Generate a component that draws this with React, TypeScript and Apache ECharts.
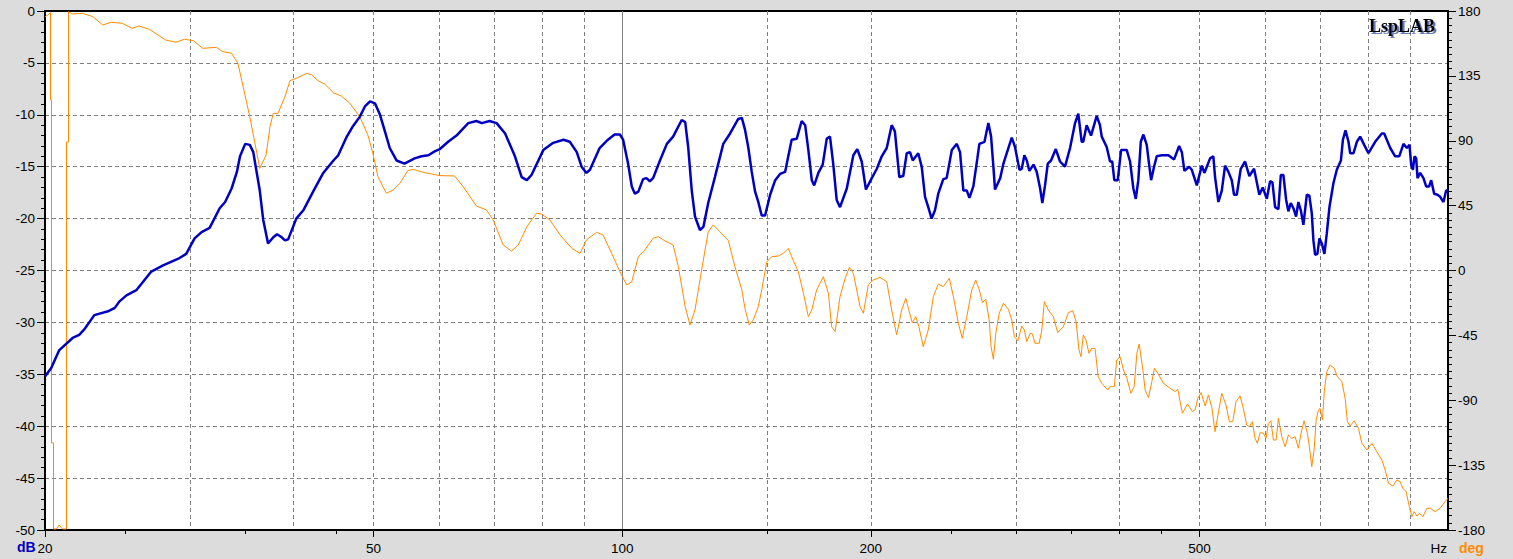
import React, { useEffect, useRef } from "react";
import * as echarts from "echarts";

// ---- Data (frequency in Hz, level in dB / phase in degrees) ----
const F_MIN = 20;
const F_MAX = 1000;

const magnitude: [number, number][] = [
  [20.0, -35.2], [20.35, -34.4], [20.8, -32.7], [21.6, -31.5], [22.0, -31.2], [22.3, -30.7], [22.95, -29.3],
  [23.9, -28.9], [24.3, -28.6], [24.6, -28.0], [25.1, -27.4], [25.8, -26.9], [26.9, -25.1], [27.8, -24.5],
  [29.1, -23.8], [29.65, -23.4], [30.35, -21.9], [30.95, -21.3], [31.65, -20.9], [32.55, -19.0], [33.05, -18.4],
  [33.65, -17.1], [34.15, -15.5], [34.45, -14.0], [34.95, -12.8], [35.4, -12.9], [35.75, -13.6], [36.1, -15.6],
  [36.4, -17.3], [36.75, -20.1], [37.25, -22.4], [37.8, -21.8], [38.2, -21.5], [38.7, -21.8], [39.05, -22.1],
  [39.4, -22.0], [40.3, -20.0], [41.1, -19.2], [42.3, -17.3], [43.45, -15.6], [44.7, -14.4], [45.3, -13.9],
  [46.4, -12.1], [47.2, -11.1], [48.1, -10.2], [48.8, -9.2], [49.5, -8.7], [50.2, -8.9], [50.9, -10.0],
  [51.6, -11.6], [52.3, -13.2], [53.3, -14.4], [54.5, -14.7], [56.05, -14.2], [57.15, -14.0], [58.25, -13.9],
  [59.35, -13.5], [60.15, -13.3], [61.55, -12.6], [63.0, -12.0], [65.1, -10.8], [66.6, -10.6], [67.6, -10.8],
  [69.1, -10.6], [70.45, -10.8], [72.15, -11.8], [74.15, -14.0], [75.55, -16.0], [76.65, -16.3], [77.65, -15.8],
  [80.25, -13.4], [82.5, -12.7], [84.9, -12.4], [86.4, -12.6], [88.1, -13.6], [89.3, -15.0], [90.5, -15.6],
  [91.4, -15.3], [93.9, -13.2], [96.1, -12.4], [97.9, -11.9], [99.35, -11.9], [100.25, -12.4], [101.65, -14.7],
  [102.7, -16.9], [103.6, -17.6], [104.6, -17.4], [106.0, -16.2], [107.0, -16.1], [108.0, -16.4], [109.0, -16.1],
  [111.1, -14.4], [113.25, -12.8], [115.25, -12.1], [118.05, -10.5], [119.2, -10.7], [120.2, -13.1], [121.4, -17.3],
  [122.5, -19.8], [124.2, -21.1], [125.4, -20.8], [127.1, -18.5], [129.5, -16.0], [132.55, -12.8], [135.1, -11.8],
  [138.2, -10.4], [139.6, -10.3], [140.8, -11.4], [142.1, -13.1], [143.5, -15.5], [144.85, -17.4], [146.15, -18.4],
  [147.55, -19.7], [148.95, -19.7], [151.05, -17.7], [153.2, -16.3], [155.3, -15.7], [157.5, -15.5], [158.9, -14.0],
  [160.4, -12.4], [162.7, -12.3], [164.95, -10.6], [166.55, -11.0], [168.05, -13.4], [169.65, -16.3], [170.8, -16.8],
  [172.8, -15.6], [174.9, -14.8], [176.9, -12.3], [178.5, -12.1], [180.1, -14.7], [181.85, -18.2], [183.55, -18.9],
  [187.05, -17.1], [190.5, -13.9], [192.6, -13.3], [195.0, -14.5], [197.3, -17.2], [200.55, -16.1], [203.4, -15.2],
  [206.2, -14.0], [209.1, -13.2], [212.0, -11.0], [213.9, -11.6], [216.55, -16.0], [218.95, -15.9], [221.1, -13.7],
  [223.1, -13.6], [224.8, -14.4], [228.3, -13.7], [230.5, -15.0], [232.65, -17.9], [234.75, -18.9], [236.95, -20.0],
  [239.2, -19.2], [241.4, -17.6], [244.8, -16.2], [247.1, -16.1], [250.7, -13.4], [254.2, -12.8], [256.5, -13.6],
  [258.9, -17.3], [261.4, -17.3], [263.3, -18.0], [266.2, -16.9], [269.2, -14.2], [270.7, -12.8], [274.6, -12.6],
  [277.6, -10.8], [279.7, -12.1], [281.5, -15.0], [282.8, -17.2], [286.9, -16.1], [289.5, -14.7], [292.2, -13.7],
  [296.3, -12.2], [299.0, -13.1], [302.7, -15.3], [304.7, -15.2], [306.9, -13.9], [309.0, -14.4], [311.2, -15.4],
  [314.8, -14.8], [317.7, -15.5], [320.7, -17.1], [322.7, -18.5], [325.1, -16.8], [327.6, -14.7], [330.6, -14.4],
  [335.0, -13.3], [339.0, -14.5], [343.7, -15.0], [348.6, -13.2], [353.5, -10.8], [356.7, -9.9], [360.1, -12.6],
  [361.7, -12.6], [365.1, -11.0], [369.6, -12.0], [375.5, -10.1], [378.9, -11.0], [380.8, -12.1], [386.1, -13.1],
  [389.7, -14.5], [392.1, -14.5], [394.4, -16.3], [398.2, -16.3], [401.9, -13.4], [408.3, -13.4], [412.1, -14.5],
  [415.9, -17.1], [418.7, -18.1], [421.7, -16.3], [424.6, -12.6], [427.7, -11.9], [431.7, -12.9], [434.6, -14.8],
  [437.0, -16.3], [440.6, -15.0], [443.9, -14.0], [450.2, -13.9], [458.6, -13.9], [465.9, -14.3], [472.5, -13.0],
  [476.1, -13.6], [479.5, -15.4], [485.9, -15.0], [489.5, -15.3], [496.4, -16.8], [503.3, -14.9], [507.0, -15.6],
  [515.1, -14.2], [519.8, -14.0], [522.3, -16.0], [527.2, -18.4], [532.2, -17.3], [537.1, -14.9], [542.1, -15.5],
  [547.2, -16.3], [550.7, -17.7], [554.9, -17.7], [561.1, -15.2], [567.9, -14.5], [574.7, -15.9], [582.3, -15.2],
  [590.9, -17.7], [596.6, -17.0], [603.4, -18.1], [608.9, -16.4], [612.9, -16.5], [617.5, -18.9], [623.2, -19.1],
  [627.4, -15.8], [631.9, -15.8], [636.8, -18.2], [640.8, -19.3], [645.1, -18.5], [649.8, -19.0], [654.7, -19.8],
  [658.9, -18.4], [663.4, -19.2], [668.2, -20.6], [674.6, -17.7], [679.4, -17.8], [684.0, -19.5], [687.1, -22.1],
  [690.4, -23.5], [694.8, -23.4], [698.7, -21.9], [703.4, -22.4], [708.5, -23.4], [713.3, -21.4], [718.5, -18.9],
  [726.5, -16.6], [733.4, -15.3], [741.9, -14.4], [746.0, -12.4], [751.4, -11.5], [757.7, -12.6], [761.3, -13.7],
  [768.4, -13.7], [775.6, -12.6], [782.8, -12.1], [791.6, -12.9], [801.1, -13.7], [816.2, -12.6], [831.5, -11.8],
  [837.0, -11.8], [851.2, -13.2], [863.1, -14.0], [872.8, -14.0], [883.3, -12.8], [891.7, -13.2], [898.2, -12.9],
  [902.4, -14.8], [906.8, -15.3], [910.8, -14.0], [915.1, -14.2], [918.5, -16.1], [925.3, -15.6], [933.9, -16.1],
  [940.9, -16.9], [948.8, -16.9], [954.2, -16.3], [962.2, -17.6], [971.1, -17.7], [978.4, -17.9], [987.4, -18.4],
  [994.9, -17.3], [1000, -17.3],
];

const phase: [number, number][] = [
  [20.0, 175.8], [20.309, 178.8], [20.309, 118.3], [20.366, 118.3], [20.366, -119.6], [20.48, -119.6],
  [20.48, -179.3], [20.65, -179.3], [20.8, -176.5], [21.0, -179.3], [21.235, -179.3], [21.235, 89.1],
  [21.354, 89.1], [21.354, 179.5], [21.6, 177.9],
  [22.2, 178.4], [22.85, 176.1], [23.5, 170.3], [24.05, 172.2], [24.8, 171.5], [25.5, 168.0], [26.0, 169.6],
  [26.75, 167.3], [27.4, 163.4], [28.0, 159.9], [28.8, 158.3], [29.5, 160.4], [30.25, 159.4], [31.05, 154.1],
  [32.25, 154.8], [32.85, 151.8], [33.65, 150.7], [34.25, 143.7], [34.75, 127.5], [35.4, 106.7], [35.85, 90.5],
  [36.4, 70.9], [37.05, 80.1], [37.45, 99.8], [37.8, 109.0], [38.3, 109.0], [39.05, 120.6], [39.6, 131.7],
  [40.3, 133.3], [41.5, 136.8], [42.1, 135.6], [42.8, 131.7], [43.6, 129.4], [44.7, 123.3], [45.7, 121.0],
  [46.8, 116.0], [48.1, 106.7], [49.2, 94.0], [49.9, 81.3], [50.6, 65.1], [51.8, 53.6], [52.8, 55.8],
  [53.8, 60.5], [55.0, 69.2], [55.8, 70.2], [57.4, 68.1], [60.15, 65.8], [62.65, 65.6], [64.2, 58.1],
  [66.6, 44.7], [68.5, 42.0], [69.8, 35.0], [71.75, 17.7], [73.45, 13.5], [74.85, 17.7], [76.65, 30.4],
  [78.75, 39.7], [79.85, 39.2], [81.75, 35.0], [84.1, 24.6], [86.9, 15.4], [88.9, 11.9], [90.5, 21.2],
  [93.1, 26.5], [94.8, 24.6], [97.1, 11.9], [99.35, -0.8], [101.25, -10.0], [102.7, -7.8], [104.6, 9.6],
  [106.5, 14.2], [109.0, 22.3], [110.6, 23.5], [112.65, 20.5], [115.25, 17.7], [116.95, 2.6], [119.2, -25.1],
  [120.8, -37.8], [122.5, -27.4], [124.8, 0.4], [127.1, 26.9], [128.9, 31.6], [131.3, 26.9], [134.45, 20.7],
  [136.95, 2.6], [139.6, -13.5], [140.8, -26.2], [142.5, -37.8], [144.1, -34.3], [146.15, -25.1], [147.55, -13.5],
  [149.65, 6.1], [151.8, 9.6], [154.6, 10.1], [156.7, 11.9], [158.9, 15.4], [160.4, 9.6], [163.4, -0.8],
  [165.75, -15.8], [168.05, -32.0], [169.65, -27.4], [171.95, -13.5], [175.2, -4.3], [177.7, -15.8], [179.3, -39.0],
  [181.05, -42.4], [183.55, -18.2], [186.2, -5.4], [188.4, 2.2], [190.5, -1.9], [192.3, -13.5], [194.1, -25.1],
  [195.9, -29.7], [198.6, -10.0], [201.35, -6.6], [205.2, -4.7], [209.1, -7.8], [212.0, -27.4], [214.95, -44.7],
  [218.0, -27.4], [220.5, -19.3], [222.1, -26.2], [224.5, -36.2], [226.7, -32.0], [228.7, -39.0], [231.5, -52.8],
  [234.75, -41.3], [238.1, -18.2], [241.4, -9.4], [244.8, -11.2], [248.95, -5.4], [251.8, -18.2], [255.3, -36.6],
  [258.1, -47.0], [261.4, -32.0], [265.0, -13.5], [268.0, -6.6], [270.7, -13.5], [273.0, -22.3], [275.6, -20.0],
  [278.2, -34.3], [279.7, -52.8], [281.5, -61.6], [283.4, -43.6], [286.1, -29.7], [289.5, -22.7], [293.5, -26.9],
  [296.3, -34.3], [298.5, -45.9], [301.4, -48.7], [304.7, -38.5], [306.9, -41.3], [309.0, -49.4], [311.8, -43.6],
  [313.8, -44.0], [316.2, -50.5], [319.8, -50.5], [322.2, -41.3], [324.5, -21.6], [328.1, -27.4], [332.7, -32.0],
  [336.8, -43.1], [342.1, -39.0], [346.9, -29.3], [351.2, -27.9], [354.5, -35.5], [357.4, -55.1], [359.4, -59.8],
  [361.7, -44.7], [364.4, -48.2], [367.5, -57.4], [370.3, -54.0], [373.7, -54.0], [377.1, -73.6], [380.8, -78.2],
  [387.2, -82.9], [389.7, -80.6], [394.4, -80.6], [397.0, -62.1], [400.8, -59.8], [404.6, -69.0], [408.5, -74.8],
  [413.0, -85.2], [416.8, -80.6], [420.0, -57.4], [422.7, -51.0], [426.6, -66.7], [429.8, -82.9], [433.8, -88.2],
  [437.9, -77.1], [441.1, -67.8], [445.3, -71.3], [452.3, -78.2], [460.8, -81.7], [467.3, -84.0], [470.8, -82.4],
  [473.8, -91.0], [476.9, -99.0], [483.6, -92.6], [490.3, -97.9], [494.0, -96.7], [497.8, -88.6], [502.4, -84.7],
  [508.0, -94.0], [512.7, -86.3], [517.6, -95.0], [522.3, -111.8], [525.7, -102.5], [532.2, -85.2], [538.5, -93.3],
  [543.6, -104.9], [548.7, -104.9], [553.7, -91.0], [560.0, -87.0], [565.1, -95.6], [570.5, -107.2], [574.7, -108.3],
  [579.5, -104.9], [583.9, -116.4], [587.7, -119.9], [592.1, -112.5], [597.6, -112.9], [602.2, -116.4], [606.0, -106.0],
  [610.2, -104.2], [614.6, -117.6], [619.2, -117.6], [623.2, -102.5], [629.1, -115.3], [635.0, -122.2], [640.8, -114.1],
  [647.0, -116.4], [652.9, -115.3], [658.9, -123.3], [663.9, -112.9], [669.4, -104.2], [675.7, -112.9], [679.4, -122.2],
  [684.0, -136.1], [688.4, -124.5], [692.3, -103.7], [696.8, -96.7], [700.0, -95.6], [704.6, -103.7], [708.5, -82.9],
  [713.3, -70.2], [719.9, -65.5], [728.0, -67.8], [734.6, -73.6], [743.7, -77.1], [750.7, -88.6], [755.5, -104.9],
  [761.3, -107.8], [769.9, -104.2], [779.1, -109.5], [786.5, -119.9], [797.6, -124.5], [808.7, -119.9], [820.1, -125.7],
  [831.5, -131.4], [839.3, -138.4], [847.1, -147.6], [857.5, -149.5], [867.2, -145.3], [875.2, -146.5], [881.9, -151.1],
  [889.9, -153.4], [896.7, -162.6], [904.3, -170.7], [910.1, -167.3], [917.0, -170.3], [923.6, -168.4], [932.4, -170.7],
  [942.9, -164.9], [951.6, -164.9], [964.9, -167.3], [978.4, -164.9], [992.1, -160.3], [1000, -157.9],
];

const freqLabels = [20, 50, 100, 200, 500];
const freqMinorTicks = [25, 35, 45, 150, 250, 300, 350, 400, 450];
const freqGridLines = [30, 40, 50, 60, 70, 80, 90, 150, 200, 300, 400, 500, 600, 700, 800, 900];
const freqRefLines = [100];

const FONT = 'Arial, "Liberation Sans", sans-serif';

export default function App() {
  const ref = useRef<HTMLDivElement>(null);

  useEffect(() => {
    if (!ref.current) return;
    const chart = echarts.init(ref.current, null, { renderer: "svg" });
    const lg = Math.log10;
    const xBase = {
      type: "value" as const,
      gridIndex: 0,
      min: lg(F_MIN),
      max: lg(F_MAX),
    };

    chart.setOption({
      animation: false,
      backgroundColor: "#dcdcdc",
      grid: {
        left: 45,
        right: 65,
        top: 11,
        bottom: 29,
        show: true,
        backgroundColor: "#ffffff",
        borderColor: "#000000",
        borderWidth: 2,
        containLabel: false,
        outerBoundsMode: "none",
      },
      xAxis: [
        {
          ...xBase,
          position: "bottom",
          axisLine: { show: true, onZero: false, lineStyle: { color: "#000", width: 2 } },
          axisTick: {
            show: true,
            customValues: freqLabels.map(lg),
            length: 7,
            lineStyle: { color: "#000", width: 1 },
          },
          axisLabel: {
            show: true,
            customValues: freqLabels.map(lg),
            formatter: (v: number) => String(Math.round(Math.pow(10, v))),
            color: "#000",
            fontSize: 13.5,
            fontFamily: FONT,
            margin: 11,
          },
          splitLine: { show: false },
        },
        {
          ...xBase,
          position: "bottom",
          axisLine: { show: false, onZero: false },
          axisTick: {
            show: true,
            customValues: freqMinorTicks.map(lg),
            length: 4,
            lineStyle: { color: "#000", width: 1 },
          },
          axisLabel: { show: false },
          splitLine: { show: false },
        },
        {
          ...xBase,
          position: "top",
          axisLine: { show: false, onZero: false },
          axisTick: { show: false, customValues: freqGridLines.map(lg) },
          axisLabel: { show: false },
          splitLine: {
            show: true,
            lineStyle: { color: "#808080", width: 1, type: [4, 3] },
          },
        },
        {
          ...xBase,
          position: "top",
          axisLine: { show: false, onZero: false },
          axisTick: { show: false, customValues: freqRefLines.map(lg) },
          axisLabel: { show: false },
          splitLine: {
            show: true,
            lineStyle: { color: "#808080", width: 1, type: "solid" },
          },
        },
      ],
      yAxis: [
        {
          type: "value",
          position: "left",
          min: -50,
          max: 0,
          interval: 5,
          axisLine: { show: true, onZero: false, lineStyle: { color: "#000", width: 2 } },
          axisTick: { show: true, length: 8, lineStyle: { color: "#000", width: 1 } },
          minorTick: { show: true, splitNumber: 5, length: 4, lineStyle: { color: "#000", width: 1 } },
          axisLabel: { color: "#000", fontSize: 13.5, fontFamily: FONT, margin: 10 },
          splitLine: {
            show: true,
            showMinLine: false,
            showMaxLine: false,
            lineStyle: { color: "#808080", width: 1, type: [4, 3] },
          },
        },
        {
          type: "value",
          position: "right",
          min: -180,
          max: 180,
          interval: 45,
          axisLine: { show: true, onZero: false, lineStyle: { color: "#000", width: 2 } },
          axisTick: { show: true, length: 8, lineStyle: { color: "#000", width: 1 } },
          minorTick: { show: true, splitNumber: 9, length: 4, lineStyle: { color: "#000", width: 1 } },
          axisLabel: { color: "#000", fontSize: 13.5, fontFamily: FONT, margin: 10 },
          splitLine: { show: false },
        },
      ],
      series: [
        {
          type: "line",
          name: "Phase",
          xAxisIndex: 0,
          yAxisIndex: 1,
          data: phase.map(([f, d]) => [lg(f), d]),
          symbol: "none",
          showSymbol: false,
          silent: true,
          lineStyle: { color: "#ff8c00", width: 1 },
          emphasis: { disabled: true },
          z: 3,
        },
        {
          type: "line",
          name: "Magnitude",
          xAxisIndex: 0,
          yAxisIndex: 0,
          data: magnitude.map(([f, v]) => [lg(f), v]),
          symbol: "none",
          showSymbol: false,
          silent: true,
          lineStyle: { color: "#0000c4", width: 2.5 },
          emphasis: { disabled: true },
          z: 4,
        },
      ],
      graphic: [
        {
          type: "text",
          left: 17,
          top: 540,
          style: { text: "dB", fill: "#0000c4", font: `bold 14px ${FONT}` },
        },
        {
          type: "text",
          x: 1447,
          y: 548,
          style: { text: "Hz", fill: "#000", font: `13.5px ${FONT}`, align: "right", verticalAlign: "middle" },
        },
        {
          type: "text",
          x: 1459,
          y: 548,
          style: { text: "deg", fill: "#ff8c00", font: `bold 14px ${FONT}`, align: "left", verticalAlign: "middle" },
        },
        {
          type: "text",
          x: 1369,
          y: 25.5,
          z: 100,
          style: {
            text: "LspLAB",
            fill: "#000",
            font: `bold 18px "Liberation Serif", "Times New Roman", serif`,
            align: "left",
            verticalAlign: "middle",
            textShadowColor: "rgba(70,100,170,0.85)",
            textShadowOffsetX: 2,
            textShadowOffsetY: 2,
            textShadowBlur: 1,
          },
        },
      ],
    });

    return () => {
      chart.dispose();
    };
  }, []);

  return (
    <div
      ref={ref}
      style={{ position: "absolute", left: 0, top: 0, width: 1513, height: 559 }}
    />
  );
}
